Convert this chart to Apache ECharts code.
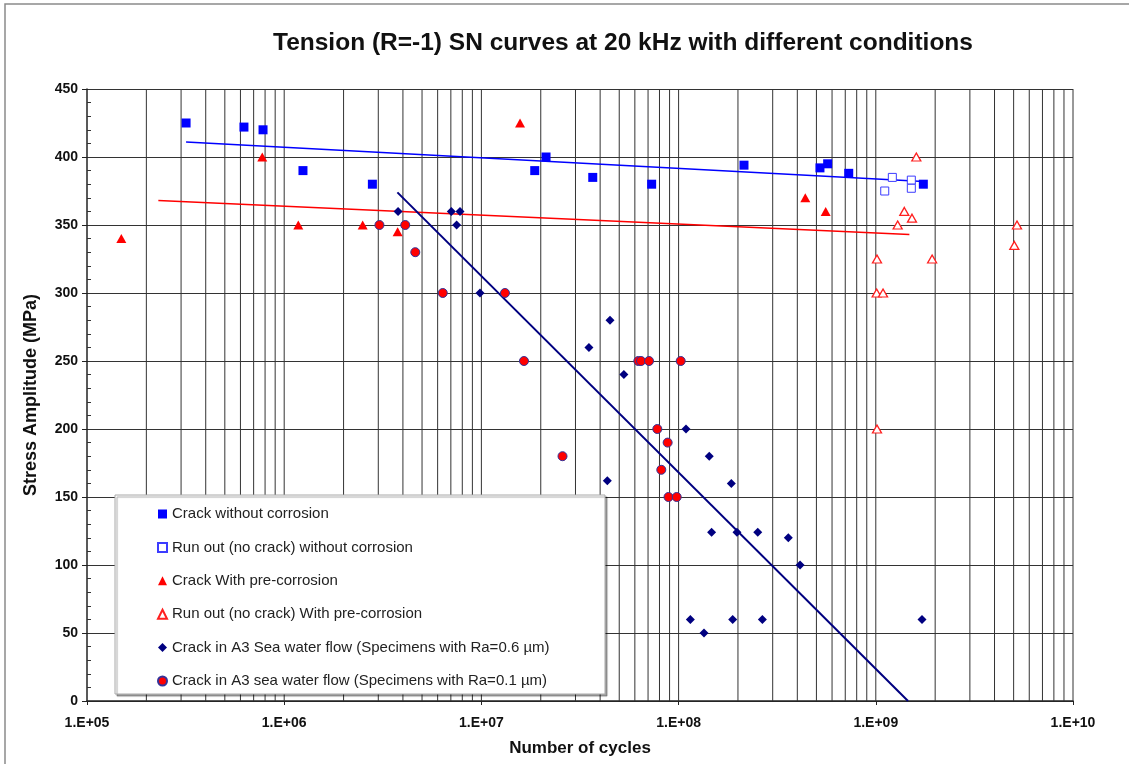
<!DOCTYPE html>
<html>
<head>
<meta charset="utf-8">
<script src="https://cdn.jsdelivr.net/npm/echarts@6/dist/echarts.min.js"></script>
<style>
html,body{margin:0;padding:0;background:#fff;}
#chart{width:1129px;height:764px;}
</style>
</head>
<body>
<div id="chart"></div>
<script>
// ---- Data (cycles N, stress amplitude MPa) ----
const crackNoCorrN = [3.18e5, 6.25e5, 7.81e5, 1.245e6, 2.80e6, 1.864e7, 2.127e7, 3.67e7, 7.30e7, 2.146e8, 5.21e8, 5.70e8, 7.29e8, 1.742e9];
const crackNoCorrS = [425, 422, 420, 390, 380, 390, 400, 385, 380, 394, 392, 395, 388, 380];

const runoutNoCorrN = [1.11e9, 1.213e9, 1.514e9, 1.514e9];
const runoutNoCorrS = [375, 385, 383, 377];

const crackPreCorrN = [1.493e5, 7.74e5, 1.179e6, 2.50e6, 3.76e6, 1.57e7, 4.39e8, 5.57e8];
const crackPreCorrS = [340, 400, 350, 350, 345, 425, 370, 360];

const runoutPreCorrN = [1.605e9, 1.395e9, 1.526e9, 1.291e9, 5.2e9, 5.04e9, 1.014e9, 1.93e9, 1.01e9, 1.088e9, 1.014e9];
const runoutPreCorrS = [400, 360, 355, 350, 350, 335, 325, 325, 300, 300, 200];

const seaRa06N = [3.78e6, 7.04e6, 7.79e6, 7.49e6, 9.84e6, 4.49e7, 3.51e7, 5.28e7, 4.35e7, 1.09e8, 1.43e8, 1.85e8, 1.47e8, 1.977e8, 2.52e8, 3.60e8, 4.13e8, 1.147e8, 1.88e8, 2.66e8, 1.345e8, 1.715e9];
const seaRa06S = [360, 360, 360, 350, 300, 280, 260, 240, 162, 200, 180, 160, 124, 124, 124, 120, 100, 60, 60, 60, 50, 60];

const seaRa01N = [3.04e6, 4.11e6, 4.62e6, 6.37e6, 1.317e7, 1.644e7, 6.25e7, 6.45e7, 7.08e7, 1.025e8, 2.578e7, 7.80e7, 8.80e7, 8.17e7, 8.89e7, 9.78e7];
const seaRa01S = [350, 350, 330, 300, 300, 250, 250, 250, 250, 250, 180, 200, 190, 170, 150, 150];

// Trend lines (end points)
const trendNoCorrN = [3.18e5, 1.742e9];
const trendNoCorrS = [411, 382];
const trendPreCorrN = [2.30e5, 1.48e9];
const trendPreCorrS = [368, 343];
const trendSeaN = [3.75e6, 1.457e9];
const trendSeaS = [374, 0];

// Axis ticks
const xDecades = [5, 6, 7, 8, 9, 10];
const yTicks = [0, 50, 100, 150, 200, 250, 300, 350, 400, 450];

const names = [
  'Crack without corrosion',
  'Run out (no crack) without corrosion',
  'Crack With pre-corrosion',
  'Run out (no crack) With pre-corrosion',
  'Crack in A3 Sea water flow (Specimens with Ra=0.6 \u00b5m)',
  'Crack in A3 sea water flow (Specimens with Ra=0.1 \u00b5m)'
];

function pairs(xs, ys){ return xs.map((x,i)=>[x, ys[i]]); }

// vertical log grid lines (1..9 x 10^d)
const gridData = [];
for (let d = xDecades[0]; d < xDecades[xDecades.length-1]; d++) {
  for (let m = 1; m <= 9; m++) {
    if (d === xDecades[0] && m === 1) continue;
    const v = m * Math.pow(10, d);
    gridData.push([v, yTicks[0]], [v, yTicks[yTicks.length-1]], null);
  }
}
gridData.push([Math.pow(10, xDecades[xDecades.length-1]), yTicks[0]], [Math.pow(10, xDecades[xDecades.length-1]), yTicks[yTicks.length-1]]);

const FONT = "'Liberation Sans', Arial, sans-serif";

const chart = echarts.init(document.getElementById('chart'), null, {renderer: 'canvas'});
chart.setOption({
  animation: false,
  backgroundColor: '#ffffff',
  title: {
    text: 'Tension (R=-1) SN curves at 20 kHz with different conditions',
    left: 273, top: 31, padding: 0,
    textStyle: {fontFamily: FONT, fontSize: 24.5, fontWeight: 'bold', color: '#111'}
  },
  graphic: [
    {type: 'rect', z: 0, shape: {x: 5, y: 4, width: 1200, height: 800},
     style: {fill: 'none', stroke: '#8a8a8a', lineWidth: 1.5}},
    {type: 'rect', z: 3, shape: {x: 115, y: 495, width: 490, height: 199},
     style: {fill: '#fff', stroke: '#a8a8a8', lineWidth: 1,
             shadowColor: 'rgba(0,0,0,0.35)', shadowOffsetX: 2, shadowOffsetY: 2, shadowBlur: 1}}
  ],
  legend: {
    data: names,
    orient: 'vertical',
    left: 157, top: 506, padding: 0,
    itemWidth: 9, itemHeight: 9, itemGap: 17.4,
    z: 4,
    selectedMode: false,
    textStyle: {fontFamily: FONT, fontSize: 15, color: '#222', lineHeight: 16}
  },
  grid: {left: 87, right: 56, top: 89, bottom: 63, containLabel: false},
  xAxis: {
    type: 'log', logBase: 10,
    min: Math.pow(10, xDecades[0]), max: Math.pow(10, xDecades[xDecades.length-1]),
    name: 'Number of cycles', nameLocation: 'middle', nameGap: 39,
    nameTextStyle: {fontFamily: FONT, fontSize: 17, fontWeight: 'bold', color: '#111'},
    axisLine: {lineStyle: {color: '#222', width: 1.5}},
    axisTick: {show: true, length: 4, lineStyle: {color: '#222'}},
    splitLine: {show: false},
    axisLabel: {
      fontFamily: FONT, fontSize: 14, fontWeight: 'bold', color: '#111', margin: 15,
      formatter: v => { const e = Math.round(Math.log10(v)); return '1.E+' + (e < 10 ? '0' + e : e); }
    }
  },
  yAxis: [
    {
      type: 'value', min: yTicks[0], max: yTicks[yTicks.length-1], interval: 50,
      position: 'left',
      name: 'Stress Amplitude (MPa)', nameLocation: 'middle', nameGap: 47,
      nameTextStyle: {fontFamily: FONT, fontSize: 18, fontWeight: 'bold', color: '#111'},
      axisLine: {show: true, lineStyle: {color: '#222', width: 1.5}},
      axisTick: {show: true, length: 5, lineStyle: {color: '#222'}},
      axisLabel: {fontFamily: FONT, fontSize: 14, fontWeight: 'bold', color: '#111', margin: 9},
      splitLine: {show: true, lineStyle: {color: '#333', width: 1}}
    },
    {
      type: 'value', min: yTicks[0], max: yTicks[yTicks.length-1], interval: 50,
      position: 'left', offset: 0,
      axisLine: {show: false},
      axisTick: {show: false, inside: true},
      minorTick: {show: true, splitNumber: 5, length: 4, lineStyle: {color: '#333'}},
      axisLabel: {show: false},
      splitLine: {show: false}
    }
  ],
  series: [
    {type: 'line', name: 'grid', data: gridData, z: 1, silent: true, symbol: 'none',
     connectNulls: false, lineStyle: {color: '#333', width: 1}},
    {type: 'line', name: 'trend1', data: pairs(trendNoCorrN, trendNoCorrS), symbol: 'none', silent: true, z: 2,
     lineStyle: {color: '#0000ff', width: 1.6}},
    {type: 'line', name: 'trend2', data: pairs(trendPreCorrN, trendPreCorrS), symbol: 'none', silent: true, z: 2,
     lineStyle: {color: '#ff0000', width: 1.6}},
    {type: 'line', name: 'trend3', data: pairs(trendSeaN, trendSeaS), symbol: 'none', silent: true, z: 2,
     lineStyle: {color: '#000080', width: 2}},
    {type: 'scatter', name: names[0], data: pairs(crackNoCorrN, crackNoCorrS), symbol: 'rect', symbolSize: 9, z: 5,
     itemStyle: {color: '#0000ff', opacity: 1}},
    {type: 'scatter', name: names[1], data: pairs(runoutNoCorrN, runoutNoCorrS), symbol: 'rect', symbolSize: 8, z: 5,
     itemStyle: {color: '#ffffff', borderColor: '#3c3cff', borderWidth: 1, opacity: 1}},
    {type: 'scatter', name: names[2], data: pairs(crackPreCorrN, crackPreCorrS), symbol: 'triangle', symbolSize: [10, 9], z: 5,
     itemStyle: {color: '#ff0000', opacity: 1}},
    {type: 'scatter', name: names[3], data: pairs(runoutPreCorrN, runoutPreCorrS), symbol: 'triangle', symbolSize: [9, 8], z: 5,
     itemStyle: {color: '#ffffff', borderColor: '#ff2020', borderWidth: 1.3, opacity: 1}},
    {type: 'scatter', name: names[4], data: pairs(seaRa06N, seaRa06S), symbol: 'diamond', symbolSize: 9, z: 5,
     itemStyle: {color: '#000080', opacity: 1}},
    {type: 'scatter', name: names[5], data: pairs(seaRa01N, seaRa01S), symbol: 'circle', symbolSize: 9, z: 5,
     itemStyle: {color: '#ff0000', borderColor: '#33339a', borderWidth: 1, opacity: 1}}
  ]
});
</script>
</body>
</html>
